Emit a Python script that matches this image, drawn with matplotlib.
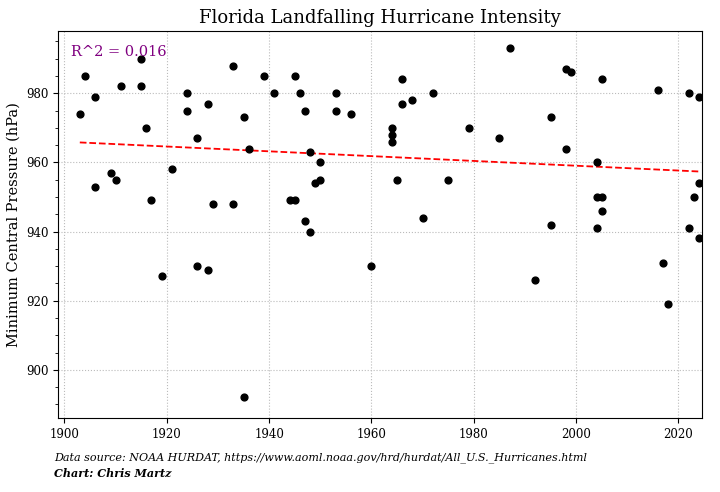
import numpy as np
import matplotlib
matplotlib.use('Agg')
import matplotlib.pyplot as plt
from matplotlib.ticker import MultipleLocator

plt.rcParams['font.family'] = ['DejaVu Serif']

# ── DATA
years = [1903, 1904, 1906, 1906, 1909, 1910, 1911, 1915, 1915, 1916, 1917, 1919,
         1921, 1924, 1924, 1926, 1926, 1928, 1928, 1929, 1933, 1933, 1935, 1935,
         1936, 1939, 1941, 1944, 1945, 1945, 1946, 1947, 1947, 1948, 1948, 1949,
         1950, 1950, 1953, 1953, 1956, 1960, 1964, 1964, 1964, 1965, 1966, 1966,
         1968, 1970, 1972, 1975, 1979, 1985, 1987, 1992, 1995, 1995, 1998, 1999,
         1998, 2004, 2004, 2005, 2005, 2004, 2005, 2016, 2017, 2018, 2022, 2022,
         2024, 2024, 2023, 2024]
pressure = [974, 985, 979, 953, 957, 955, 982, 990, 982, 970, 949, 927,
            958, 980, 975, 967, 930, 977, 929, 948, 988, 948, 973, 892,
            964, 985, 980, 949, 949, 985, 980, 975, 943, 963, 940, 954,
            955, 960, 980, 975, 974, 930, 970, 968, 966, 955, 984, 977,
            978, 944, 980, 955, 970, 967, 993, 926, 973, 942, 987, 986,
            964, 960, 950, 950, 946, 941, 984, 981, 931, 919, 980, 941,
            979, 954, 950, 938]
r2_label = "R^2 = 0.016"

fig, ax = plt.subplots(figsize=(7.2, 4.92), dpi=100)
ax.scatter(years, pressure, color='black', s=24, zorder=3)

# trend line
x = np.array(years)
slope, intercept = np.polyfit(x, pressure, 1)
xs = np.array([min(years), max(years)])
ax.plot(xs, slope * xs + intercept, 'r--', linewidth=1.3, zorder=2)

ax.text(0.02, 0.965, r2_label, transform=ax.transAxes, color='purple',
        fontsize=10.5, va='top')

ax.set_xlim(1898.8, 2024.6)
ax.set_ylim(886, 998)
ax.xaxis.set_major_locator(MultipleLocator(20))
ax.yaxis.set_major_locator(MultipleLocator(20))
ax.yaxis.set_minor_locator(MultipleLocator(5))
ax.grid(True, which='major', linestyle=':', color='#bbbbbb', linewidth=0.8)
ax.tick_params(labelsize=8.5)
ax.set_ylabel('Minimum Central Pressure (hPa)', fontsize=10.5)
ax.set_title('Florida Landfalling Hurricane Intensity', fontsize=13)

fig.text(0.075, 0.065, 'Data source: NOAA HURDAT, https://www.aoml.noaa.gov/hrd/hurdat/All_U.S._Hurricanes.html',
         fontsize=8, style='italic')
fig.text(0.075, 0.03, 'Chart: Chris Martz', fontsize=8, style='italic', weight='bold')

fig.subplots_adjust(left=0.081, right=0.975, top=0.937, bottom=0.15)
fig.savefig('out.png', dpi=100)
